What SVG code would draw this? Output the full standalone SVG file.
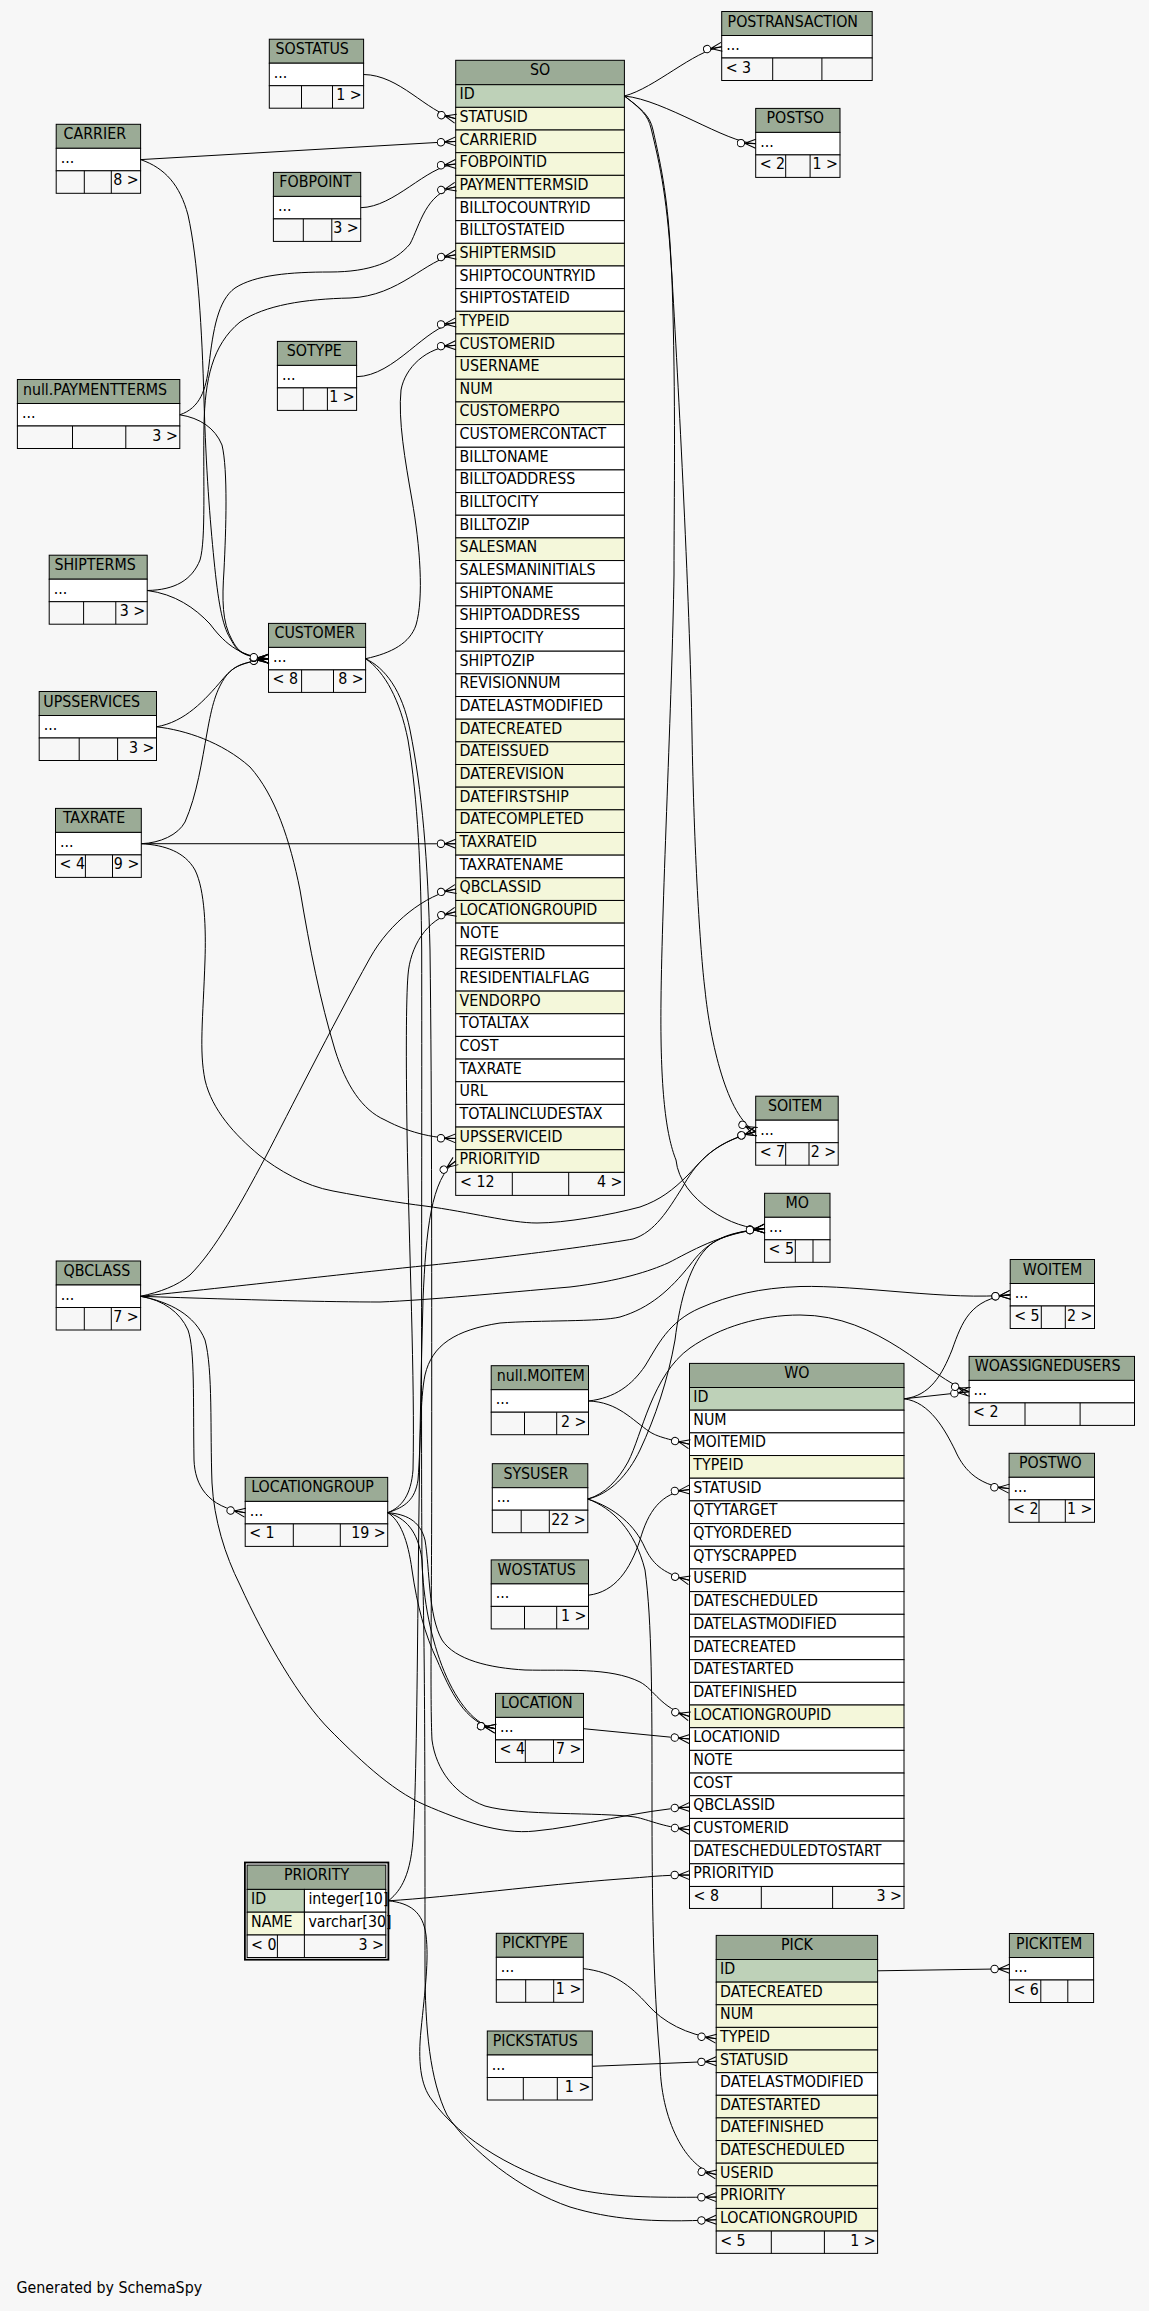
<svg xmlns="http://www.w3.org/2000/svg" width="1149" height="2311" viewBox="0 0 1149 2311">
<style>
.hd{fill:#9bab96;stroke:#000;stroke-width:1}
.pk{fill:#bed1b8;stroke:#000;stroke-width:1}
.ix{fill:#f4f7da;stroke:#000;stroke-width:1}
.wh{fill:#ffffff;stroke:#000;stroke-width:1}
.ft{fill:#f7f7f7;stroke:#000;stroke-width:1}
.ln{fill:none;stroke:#000;stroke-width:1}
text{font-family:"DejaVu Sans Condensed","DejaVu Sans",sans-serif;font-stretch:condensed;font-size:15.8px;fill:#000}
.c{text-anchor:middle}
.r{text-anchor:end}
.e{fill:none;stroke:#000;stroke-width:1;marker-end:url(#cf)}
</style>
<defs>
<marker id="cf" viewBox="-19 -6 20 12" refX="0" refY="0" markerWidth="20" markerHeight="12" markerUnits="userSpaceOnUse" orient="auto">
<path d="M-11,0L0,-4.5M-11,0L0,4.5M-11,0L0,0" fill="none" stroke="#000" stroke-width="1"/>
<circle cx="-14.8" cy="0" r="3.7" fill="#fff" stroke="#000" stroke-width="1"/>
</marker>
</defs>
<rect x="0" y="0" width="1149" height="2311" fill="#f7f7f7"/>

<g id="n-SOSTATUS"><rect class="hd" x="269.3" y="39.2" width="94.3" height="24"/><rect class="wh" x="269.3" y="63.2" width="94.3" height="22.5"/><rect class="ft" x="269.3" y="85.7" width="94.3" height="22.5"/><path class="ln" d="M301.5,85.7v22.5M332.5,85.7v22.5"/><text x="275.6" y="54.2">SOSTATUS</text><text x="273.8" y="77.7">...</text><text class="r" x="361.6" y="100.2">1 &gt;</text></g>
<g id="n-CARRIER"><rect class="hd" x="56.2" y="124.3" width="84.4" height="24"/><rect class="wh" x="56.2" y="148.3" width="84.4" height="22.5"/><rect class="ft" x="56.2" y="170.8" width="84.4" height="22.5"/><path class="ln" d="M84.3,170.8v22.5M111.3,170.8v22.5"/><text x="63.6" y="139.3">CARRIER</text><text x="60.7" y="162.8">...</text><text class="r" x="138.6" y="185.3">8 &gt;</text></g>
<g id="n-FOBPOINT"><rect class="hd" x="273.4" y="172.4" width="87.3" height="24"/><rect class="wh" x="273.4" y="196.4" width="87.3" height="22.5"/><rect class="ft" x="273.4" y="218.9" width="87.3" height="22.5"/><path class="ln" d="M303.3,218.9v22.5M331.8,218.9v22.5"/><text x="279.3" y="187.4">FOBPOINT</text><text x="277.9" y="210.9">...</text><text class="r" x="358.7" y="233.4">3 &gt;</text></g>
<g id="n-SOTYPE"><rect class="hd" x="277.4" y="341.4" width="79.2" height="24"/><rect class="wh" x="277.4" y="365.4" width="79.2" height="22.5"/><rect class="ft" x="277.4" y="387.9" width="79.2" height="22.5"/><path class="ln" d="M303.3,387.9v22.5M327.4,387.9v22.5"/><text x="286.7" y="356.4">SOTYPE</text><text x="281.9" y="379.9">...</text><text class="r" x="354.6" y="402.4">1 &gt;</text></g>
<g id="n-PAYMENTTERMS"><rect class="hd" x="17.4" y="379.5" width="162.4" height="24"/><rect class="wh" x="17.4" y="403.5" width="162.4" height="22.5"/><rect class="ft" x="17.4" y="426" width="162.4" height="22.5"/><path class="ln" d="M72.5,426v22.5M125.8,426v22.5"/><text x="22.9" y="394.5">null.PAYMENTTERMS</text><text x="21.9" y="418">...</text><text class="r" x="177.8" y="440.5">3 &gt;</text></g>
<g id="n-SHIPTERMS"><rect class="hd" x="49.2" y="555.2" width="98" height="24"/><rect class="wh" x="49.2" y="579.2" width="98" height="22.5"/><rect class="ft" x="49.2" y="601.7" width="98" height="22.5"/><path class="ln" d="M83.6,601.7v22.5M115.8,601.7v22.5"/><text x="54.4" y="570.2">SHIPTERMS</text><text x="53.7" y="593.7">...</text><text class="r" x="145.2" y="616.2">3 &gt;</text></g>
<g id="n-CUSTOMER"><rect class="hd" x="268.5" y="623.4" width="97.1" height="24"/><rect class="wh" x="268.5" y="647.4" width="97.1" height="22.5"/><rect class="ft" x="268.5" y="669.9" width="97.1" height="22.5"/><path class="ln" d="M301.6,669.9v22.5M333.5,669.9v22.5"/><text x="274.5" y="638.4">CUSTOMER</text><text x="273" y="661.9">...</text><text x="272.5" y="684.4">&lt; 8</text><text class="r" x="363.6" y="684.4">8 &gt;</text></g>
<g id="n-UPSSERVICES"><rect class="hd" x="39.2" y="691.5" width="117.3" height="24"/><rect class="wh" x="39.2" y="715.5" width="117.3" height="22.5"/><rect class="ft" x="39.2" y="738" width="117.3" height="22.5"/><path class="ln" d="M79.2,738v22.5M117.6,738v22.5"/><text x="43.3" y="706.5">UPSSERVICES</text><text x="43.7" y="730">...</text><text class="r" x="154.5" y="752.5">3 &gt;</text></g>
<g id="n-TAXRATE"><rect class="hd" x="55.5" y="808.4" width="85.8" height="24"/><rect class="wh" x="55.5" y="832.4" width="85.8" height="22.5"/><rect class="ft" x="55.5" y="854.9" width="85.8" height="22.5"/><path class="ln" d="M85.4,854.9v22.5M112.5,854.9v22.5"/><text x="62.9" y="823.4">TAXRATE</text><text x="60" y="846.9">...</text><text x="59.5" y="869.4">&lt; 4</text><text class="r" x="139.3" y="869.4">9 &gt;</text></g>
<g id="n-POSTRANSACTION"><rect class="hd" x="721.7" y="11.5" width="150.5" height="24"/><rect class="wh" x="721.7" y="35.5" width="150.5" height="22.5"/><rect class="ft" x="721.7" y="58" width="150.5" height="22.5"/><path class="ln" d="M772.7,58v22.5M821.9,58v22.5"/><text x="727.6" y="26.5">POSTRANSACTION</text><text x="726.2" y="50">...</text><text x="725.7" y="72.5">&lt; 3</text></g>
<g id="n-POSTSO"><rect class="hd" x="755.7" y="108.4" width="84.3" height="24"/><rect class="wh" x="755.7" y="132.4" width="84.3" height="22.5"/><rect class="ft" x="755.7" y="154.9" width="84.3" height="22.5"/><path class="ln" d="M785.7,154.9v22.5M810.1,154.9v22.5"/><text x="766.4" y="123.4">POSTSO</text><text x="760.2" y="146.9">...</text><text x="759.7" y="169.4">&lt; 2</text><text class="r" x="838" y="169.4">1 &gt;</text></g>
<g id="n-SOITEM"><rect class="hd" x="755.7" y="1096.2" width="82.5" height="24"/><rect class="wh" x="755.7" y="1120.2" width="82.5" height="22.5"/><rect class="ft" x="755.7" y="1142.7" width="82.5" height="22.5"/><path class="ln" d="M785.7,1142.7v22.5M809,1142.7v22.5"/><text x="767.9" y="1111.2">SOITEM</text><text x="760.2" y="1134.7">...</text><text x="759.7" y="1157.2">&lt; 7</text><text class="r" x="836.2" y="1157.2">2 &gt;</text></g>
<g id="n-MO"><rect class="hd" x="764.6" y="1193.3" width="65.4" height="24"/><rect class="wh" x="764.6" y="1217.3" width="65.4" height="22.5"/><rect class="ft" x="764.6" y="1239.8" width="65.4" height="22.5"/><path class="ln" d="M795.3,1239.8v22.5M813,1239.8v22.5"/><text class="c" x="797.3" y="1208.3">MO</text><text x="769.1" y="1231.8">...</text><text x="768.6" y="1254.3">&lt; 5</text></g>
<g id="n-WOITEM"><rect class="hd" x="1010.2" y="1259.5" width="84.3" height="24"/><rect class="wh" x="1010.2" y="1283.5" width="84.3" height="22.5"/><rect class="ft" x="1010.2" y="1306" width="84.3" height="22.5"/><path class="ln" d="M1041.3,1306v22.5M1065.3,1306v22.5"/><text x="1022.8" y="1274.5">WOITEM</text><text x="1014.7" y="1298">...</text><text x="1014.2" y="1320.5">&lt; 5</text><text class="r" x="1092.5" y="1320.5">2 &gt;</text></g>
<g id="n-WOASSIGNEDUSERS"><rect class="hd" x="969.1" y="1356.4" width="165.4" height="24"/><rect class="wh" x="969.1" y="1380.4" width="165.4" height="22.5"/><rect class="ft" x="969.1" y="1402.9" width="165.4" height="22.5"/><path class="ln" d="M1025,1402.9v22.5M1080.1,1402.9v22.5"/><text x="974.7" y="1371.4">WOASSIGNEDUSERS</text><text x="973.6" y="1394.9">...</text><text x="973.1" y="1417.4">&lt; 2</text></g>
<g id="n-POSTWO"><rect class="hd" x="1009.1" y="1453.3" width="85.4" height="24"/><rect class="wh" x="1009.1" y="1477.3" width="85.4" height="22.5"/><rect class="ft" x="1009.1" y="1499.8" width="85.4" height="22.5"/><path class="ln" d="M1039,1499.8v22.5M1065.3,1499.8v22.5"/><text x="1019" y="1468.3">POSTWO</text><text x="1013.6" y="1491.8">...</text><text x="1013.1" y="1514.3">&lt; 2</text><text class="r" x="1092.5" y="1514.3">1 &gt;</text></g>
<g id="n-QBCLASS"><rect class="hd" x="56.2" y="1261" width="84.4" height="24"/><rect class="wh" x="56.2" y="1285" width="84.4" height="22.5"/><rect class="ft" x="56.2" y="1307.5" width="84.4" height="22.5"/><path class="ln" d="M84.3,1307.5v22.5M111.3,1307.5v22.5"/><text x="63.6" y="1276">QBCLASS</text><text x="60.7" y="1299.5">...</text><text class="r" x="138.6" y="1322">7 &gt;</text></g>
<g id="n-LOCATIONGROUP"><rect class="hd" x="245.2" y="1477.4" width="142.5" height="24"/><rect class="wh" x="245.2" y="1501.4" width="142.5" height="22.5"/><rect class="ft" x="245.2" y="1523.9" width="142.5" height="22.5"/><path class="ln" d="M293.3,1523.9v22.5M340.3,1523.9v22.5"/><text x="251.2" y="1492.4">LOCATIONGROUP</text><text x="249.7" y="1515.9">...</text><text x="249.2" y="1538.4">&lt; 1</text><text class="r" x="385.7" y="1538.4">19 &gt;</text></g>
<g id="n-MOITEM"><rect class="hd" x="491.2" y="1365.7" width="97.3" height="24"/><rect class="wh" x="491.2" y="1389.7" width="97.3" height="22.5"/><rect class="ft" x="491.2" y="1412.2" width="97.3" height="22.5"/><path class="ln" d="M524.5,1412.2v22.5M556.7,1412.2v22.5"/><text x="496.8" y="1380.7">null.MOITEM</text><text x="495.7" y="1404.2">...</text><text class="r" x="586.5" y="1426.7">2 &gt;</text></g>
<g id="n-SYSUSER"><rect class="hd" x="492.3" y="1463.7" width="95.5" height="24"/><rect class="wh" x="492.3" y="1487.7" width="95.5" height="22.5"/><rect class="ft" x="492.3" y="1510.2" width="95.5" height="22.5"/><path class="ln" d="M521.2,1510.2v22.5M549.3,1510.2v22.5"/><text x="503.4" y="1478.7">SYSUSER</text><text x="496.8" y="1502.2">...</text><text class="r" x="585.8" y="1524.7">22 &gt;</text></g>
<g id="n-WOSTATUS"><rect class="hd" x="491.2" y="1559.9" width="97.3" height="24"/><rect class="wh" x="491.2" y="1583.9" width="97.3" height="22.5"/><rect class="ft" x="491.2" y="1606.4" width="97.3" height="22.5"/><path class="ln" d="M524.5,1606.4v22.5M556.7,1606.4v22.5"/><text x="497.5" y="1574.9">WOSTATUS</text><text x="495.7" y="1598.4">...</text><text class="r" x="586.5" y="1620.9">1 &gt;</text></g>
<g id="n-LOCATION"><rect class="hd" x="495.5" y="1693.4" width="88" height="24"/><rect class="wh" x="495.5" y="1717.4" width="88" height="22.5"/><rect class="ft" x="495.5" y="1739.9" width="88" height="22.5"/><path class="ln" d="M525.3,1739.9v22.5M553.5,1739.9v22.5"/><text x="501" y="1708.4">LOCATION</text><text x="500" y="1731.9">...</text><text x="499.5" y="1754.4">&lt; 4</text><text class="r" x="581.5" y="1754.4">7 &gt;</text></g>
<g id="n-PICKTYPE"><rect class="hd" x="496.3" y="1933.3" width="87" height="24"/><rect class="wh" x="496.3" y="1957.3" width="87" height="22.5"/><rect class="ft" x="496.3" y="1979.8" width="87" height="22.5"/><path class="ln" d="M525.7,1979.8v22.5M553.7,1979.8v22.5"/><text x="502.3" y="1948.3">PICKTYPE</text><text x="500.8" y="1971.8">...</text><text class="r" x="581.3" y="1994.3">1 &gt;</text></g>
<g id="n-PICKSTATUS"><rect class="hd" x="487.3" y="2031" width="105" height="24"/><rect class="wh" x="487.3" y="2055" width="105" height="22.5"/><rect class="ft" x="487.3" y="2077.5" width="105" height="22.5"/><path class="ln" d="M523.3,2077.5v22.5M557.3,2077.5v22.5"/><text x="492.7" y="2046">PICKSTATUS</text><text x="491.8" y="2069.5">...</text><text class="r" x="590.3" y="2092">1 &gt;</text></g>
<g id="n-PICKITEM"><rect class="hd" x="1009.4" y="1933.5" width="84.2" height="24"/><rect class="wh" x="1009.4" y="1957.5" width="84.2" height="22.5"/><rect class="ft" x="1009.4" y="1980" width="84.2" height="22.5"/><path class="ln" d="M1040.8,1980v22.5M1067.8,1980v22.5"/><text x="1016.1" y="1948.5">PICKITEM</text><text x="1013.9" y="1972">...</text><text x="1013.4" y="1994.5">&lt; 6</text></g>

<g id="n-PRIORITY">
<rect x="244.9" y="1862.5" width="143.5" height="97.2" fill="#f7f7f7" stroke="#000" stroke-width="1.8"/>
<rect class="hd" x="247.1" y="1865.1" width="138.7" height="24.3"/>
<rect class="pk" x="247.1" y="1889.4" width="57.3" height="22.8"/>
<rect class="wh" x="304.4" y="1889.4" width="81.4" height="22.8"/>
<rect class="ix" x="247.1" y="1912.2" width="57.3" height="22.8"/>
<rect class="wh" x="304.4" y="1912.2" width="81.4" height="22.8"/>
<rect class="ft" x="247.1" y="1935" width="138.7" height="22.5"/>
<path class="ln" d="M277.4,1935v22.5M304.4,1935v22.5"/>
<text class="c" x="316.5" y="1880.3">PRIORITY</text>
<text x="251" y="1903.9">ID</text><text x="308.4" y="1903.9">integer[10]</text>
<text x="251" y="1926.7">NAME</text><text x="308.4" y="1926.7">varchar[30]</text>
<text x="251" y="1949.5">&lt; 0</text><text class="r" x="384" y="1949.5">3 &gt;</text>
</g>

<g id="n-SO">
<rect class="hd" x="455.7" y="60.3" width="168.7" height="24.4"/>
<text class="c" x="540.05" y="75.3">SO</text>
<rect class="pk" x="455.7" y="84.70" width="168.7" height="22.66"/><text x="459.5" y="99.2">ID</text>
<rect class="ix" x="455.7" y="107.36" width="168.7" height="22.66"/><text x="459.5" y="121.9">STATUSID</text>
<rect class="ix" x="455.7" y="130.02" width="168.7" height="22.66"/><text x="459.5" y="144.5">CARRIERID</text>
<rect class="ix" x="455.7" y="152.68" width="168.7" height="22.66"/><text x="459.5" y="167.2">FOBPOINTID</text>
<rect class="ix" x="455.7" y="175.34" width="168.7" height="22.66"/><text x="459.5" y="189.8">PAYMENTTERMSID</text>
<rect class="wh" x="455.7" y="198.00" width="168.7" height="22.66"/><text x="459.5" y="212.5">BILLTOCOUNTRYID</text>
<rect class="wh" x="455.7" y="220.66" width="168.7" height="22.66"/><text x="459.5" y="235.2">BILLTOSTATEID</text>
<rect class="ix" x="455.7" y="243.32" width="168.7" height="22.66"/><text x="459.5" y="257.8">SHIPTERMSID</text>
<rect class="wh" x="455.7" y="265.98" width="168.7" height="22.66"/><text x="459.5" y="280.5">SHIPTOCOUNTRYID</text>
<rect class="wh" x="455.7" y="288.64" width="168.7" height="22.66"/><text x="459.5" y="303.1">SHIPTOSTATEID</text>
<rect class="ix" x="455.7" y="311.30" width="168.7" height="22.66"/><text x="459.5" y="325.8">TYPEID</text>
<rect class="ix" x="455.7" y="333.96" width="168.7" height="22.66"/><text x="459.5" y="348.5">CUSTOMERID</text>
<rect class="ix" x="455.7" y="356.62" width="168.7" height="22.66"/><text x="459.5" y="371.1">USERNAME</text>
<rect class="ix" x="455.7" y="379.28" width="168.7" height="22.66"/><text x="459.5" y="393.8">NUM</text>
<rect class="ix" x="455.7" y="401.94" width="168.7" height="22.66"/><text x="459.5" y="416.4">CUSTOMERPO</text>
<rect class="wh" x="455.7" y="424.60" width="168.7" height="22.66"/><text x="459.5" y="439.1">CUSTOMERCONTACT</text>
<rect class="wh" x="455.7" y="447.26" width="168.7" height="22.66"/><text x="459.5" y="461.8">BILLTONAME</text>
<rect class="wh" x="455.7" y="469.92" width="168.7" height="22.66"/><text x="459.5" y="484.4">BILLTOADDRESS</text>
<rect class="wh" x="455.7" y="492.58" width="168.7" height="22.66"/><text x="459.5" y="507.1">BILLTOCITY</text>
<rect class="wh" x="455.7" y="515.24" width="168.7" height="22.66"/><text x="459.5" y="529.7">BILLTOZIP</text>
<rect class="ix" x="455.7" y="537.90" width="168.7" height="22.66"/><text x="459.5" y="552.4">SALESMAN</text>
<rect class="wh" x="455.7" y="560.56" width="168.7" height="22.66"/><text x="459.5" y="575.1">SALESMANINITIALS</text>
<rect class="wh" x="455.7" y="583.22" width="168.7" height="22.66"/><text x="459.5" y="597.7">SHIPTONAME</text>
<rect class="wh" x="455.7" y="605.88" width="168.7" height="22.66"/><text x="459.5" y="620.4">SHIPTOADDRESS</text>
<rect class="wh" x="455.7" y="628.54" width="168.7" height="22.66"/><text x="459.5" y="643.0">SHIPTOCITY</text>
<rect class="wh" x="455.7" y="651.20" width="168.7" height="22.66"/><text x="459.5" y="665.7">SHIPTOZIP</text>
<rect class="wh" x="455.7" y="673.86" width="168.7" height="22.66"/><text x="459.5" y="688.4">REVISIONNUM</text>
<rect class="wh" x="455.7" y="696.52" width="168.7" height="22.66"/><text x="459.5" y="711.0">DATELASTMODIFIED</text>
<rect class="ix" x="455.7" y="719.18" width="168.7" height="22.66"/><text x="459.5" y="733.7">DATECREATED</text>
<rect class="ix" x="455.7" y="741.84" width="168.7" height="22.66"/><text x="459.5" y="756.3">DATEISSUED</text>
<rect class="ix" x="455.7" y="764.50" width="168.7" height="22.66"/><text x="459.5" y="779.0">DATEREVISION</text>
<rect class="ix" x="455.7" y="787.16" width="168.7" height="22.66"/><text x="459.5" y="801.7">DATEFIRSTSHIP</text>
<rect class="ix" x="455.7" y="809.82" width="168.7" height="22.66"/><text x="459.5" y="824.3">DATECOMPLETED</text>
<rect class="ix" x="455.7" y="832.48" width="168.7" height="22.66"/><text x="459.5" y="847.0">TAXRATEID</text>
<rect class="wh" x="455.7" y="855.14" width="168.7" height="22.66"/><text x="459.5" y="869.6">TAXRATENAME</text>
<rect class="ix" x="455.7" y="877.80" width="168.7" height="22.66"/><text x="459.5" y="892.3">QBCLASSID</text>
<rect class="ix" x="455.7" y="900.46" width="168.7" height="22.66"/><text x="459.5" y="915.0">LOCATIONGROUPID</text>
<rect class="wh" x="455.7" y="923.12" width="168.7" height="22.66"/><text x="459.5" y="937.6">NOTE</text>
<rect class="wh" x="455.7" y="945.78" width="168.7" height="22.66"/><text x="459.5" y="960.3">REGISTERID</text>
<rect class="wh" x="455.7" y="968.44" width="168.7" height="22.66"/><text x="459.5" y="982.9">RESIDENTIALFLAG</text>
<rect class="ix" x="455.7" y="991.10" width="168.7" height="22.66"/><text x="459.5" y="1005.6">VENDORPO</text>
<rect class="wh" x="455.7" y="1013.76" width="168.7" height="22.66"/><text x="459.5" y="1028.3">TOTALTAX</text>
<rect class="wh" x="455.7" y="1036.42" width="168.7" height="22.66"/><text x="459.5" y="1050.9">COST</text>
<rect class="wh" x="455.7" y="1059.08" width="168.7" height="22.66"/><text x="459.5" y="1073.6">TAXRATE</text>
<rect class="wh" x="455.7" y="1081.74" width="168.7" height="22.66"/><text x="459.5" y="1096.2">URL</text>
<rect class="wh" x="455.7" y="1104.40" width="168.7" height="22.66"/><text x="459.5" y="1118.9">TOTALINCLUDESTAX</text>
<rect class="ix" x="455.7" y="1127.06" width="168.7" height="22.66"/><text x="459.5" y="1141.6">UPSSERVICEID</text>
<rect class="ix" x="455.7" y="1149.72" width="168.7" height="22.66"/><text x="459.5" y="1164.2">PRIORITYID</text>
<rect class="ft" x="455.7" y="1172.38" width="168.7" height="23"/>
<path class="ln" d="M512.3,1172.38v23M568.7,1172.38v23"/>
<text x="460" y="1186.9">&lt; 12</text><text class="r" x="622.4" y="1186.9">4 &gt;</text>
</g>

<g id="n-WO">
<rect class="hd" x="689.5" y="1363.4" width="214.5" height="24.1"/>
<text class="c" x="796.75" y="1378.4">WO</text>
<rect class="pk" x="689.5" y="1387.50" width="214.5" height="22.68"/><text x="693.3" y="1402.0">ID</text>
<rect class="wh" x="689.5" y="1410.18" width="214.5" height="22.68"/><text x="693.3" y="1424.7">NUM</text>
<rect class="wh" x="689.5" y="1432.86" width="214.5" height="22.68"/><text x="693.3" y="1447.4">MOITEMID</text>
<rect class="ix" x="689.5" y="1455.54" width="214.5" height="22.68"/><text x="693.3" y="1470.0">TYPEID</text>
<rect class="wh" x="689.5" y="1478.22" width="214.5" height="22.68"/><text x="693.3" y="1492.7">STATUSID</text>
<rect class="wh" x="689.5" y="1500.90" width="214.5" height="22.68"/><text x="693.3" y="1515.4">QTYTARGET</text>
<rect class="wh" x="689.5" y="1523.58" width="214.5" height="22.68"/><text x="693.3" y="1538.1">QTYORDERED</text>
<rect class="wh" x="689.5" y="1546.26" width="214.5" height="22.68"/><text x="693.3" y="1560.8">QTYSCRAPPED</text>
<rect class="wh" x="689.5" y="1568.94" width="214.5" height="22.68"/><text x="693.3" y="1583.4">USERID</text>
<rect class="wh" x="689.5" y="1591.62" width="214.5" height="22.68"/><text x="693.3" y="1606.1">DATESCHEDULED</text>
<rect class="wh" x="689.5" y="1614.30" width="214.5" height="22.68"/><text x="693.3" y="1628.8">DATELASTMODIFIED</text>
<rect class="wh" x="689.5" y="1636.98" width="214.5" height="22.68"/><text x="693.3" y="1651.5">DATECREATED</text>
<rect class="wh" x="689.5" y="1659.66" width="214.5" height="22.68"/><text x="693.3" y="1674.2">DATESTARTED</text>
<rect class="wh" x="689.5" y="1682.34" width="214.5" height="22.68"/><text x="693.3" y="1696.8">DATEFINISHED</text>
<rect class="ix" x="689.5" y="1705.02" width="214.5" height="22.68"/><text x="693.3" y="1719.5">LOCATIONGROUPID</text>
<rect class="wh" x="689.5" y="1727.70" width="214.5" height="22.68"/><text x="693.3" y="1742.2">LOCATIONID</text>
<rect class="wh" x="689.5" y="1750.38" width="214.5" height="22.68"/><text x="693.3" y="1764.9">NOTE</text>
<rect class="wh" x="689.5" y="1773.06" width="214.5" height="22.68"/><text x="693.3" y="1787.6">COST</text>
<rect class="wh" x="689.5" y="1795.74" width="214.5" height="22.68"/><text x="693.3" y="1810.2">QBCLASSID</text>
<rect class="wh" x="689.5" y="1818.42" width="214.5" height="22.68"/><text x="693.3" y="1832.9">CUSTOMERID</text>
<rect class="wh" x="689.5" y="1841.10" width="214.5" height="22.68"/><text x="693.3" y="1855.6">DATESCHEDULEDTOSTART</text>
<rect class="wh" x="689.5" y="1863.78" width="214.5" height="22.68"/><text x="693.3" y="1878.3">PRIORITYID</text>
<rect class="ft" x="689.5" y="1886.46" width="214.5" height="22"/>
<path class="ln" d="M761.3,1886.46v22M832.6,1886.46v22"/>
<text x="693.5" y="1901">&lt; 8</text><text class="r" x="902" y="1901">3 &gt;</text>
</g>

<g id="n-PICK">
<rect class="hd" x="716.2" y="1935.4" width="161.4" height="24.1"/>
<text class="c" x="796.9" y="1950.4">PICK</text>
<rect class="pk" x="716.2" y="1959.50" width="161.4" height="22.63"/><text x="720" y="1974.0">ID</text>
<rect class="ix" x="716.2" y="1982.13" width="161.4" height="22.63"/><text x="720" y="1996.6">DATECREATED</text>
<rect class="ix" x="716.2" y="2004.76" width="161.4" height="22.63"/><text x="720" y="2019.3">NUM</text>
<rect class="ix" x="716.2" y="2027.39" width="161.4" height="22.63"/><text x="720" y="2041.9">TYPEID</text>
<rect class="ix" x="716.2" y="2050.02" width="161.4" height="22.63"/><text x="720" y="2064.5">STATUSID</text>
<rect class="wh" x="716.2" y="2072.65" width="161.4" height="22.63"/><text x="720" y="2087.1">DATELASTMODIFIED</text>
<rect class="ix" x="716.2" y="2095.28" width="161.4" height="22.63"/><text x="720" y="2109.8">DATESTARTED</text>
<rect class="ix" x="716.2" y="2117.91" width="161.4" height="22.63"/><text x="720" y="2132.4">DATEFINISHED</text>
<rect class="ix" x="716.2" y="2140.54" width="161.4" height="22.63"/><text x="720" y="2155.0">DATESCHEDULED</text>
<rect class="ix" x="716.2" y="2163.17" width="161.4" height="22.63"/><text x="720" y="2177.7">USERID</text>
<rect class="ix" x="716.2" y="2185.80" width="161.4" height="22.63"/><text x="720" y="2200.3">PRIORITY</text>
<rect class="ix" x="716.2" y="2208.43" width="161.4" height="22.63"/><text x="720" y="2222.9">LOCATIONGROUPID</text>
<rect class="ft" x="716.2" y="2231.06" width="161.4" height="22.3"/>
<path class="ln" d="M771.3,2231.06v22.3M824.4,2231.06v22.3"/>
<text x="720.2" y="2245.6">&lt; 5</text><text class="r" x="875.6" y="2245.6">1 &gt;</text>
</g>

<g id="connectors">
<path class="e" d="M363.6,74.5C400,75 425.5,111.3 455.7,118.7"/>
<path class="e" d="M140.6,159.6L455.7,141.4"/>
<path class="e" d="M360.7,207.7C395,207 425.5,166.6 455.7,164"/>
<path class="e" d="M179.8,414.8C200,408 206,390 209,365C213,330 218,300 235,288C255,275 290,272 330,272C370,272 395,262 410,244C420,225 425.5,193.5 455.7,186.7"/>
<path class="e" d="M147.2,590.5C175,590 192,580 200,560C206,540 203,480 204,425C205,380 212,345 240,322C265,305 305,299 350,298C400,296 425.5,259.5 455.7,254.7"/>
<path class="e" d="M356.6,376.7C395,376 425.5,326.2 455.7,322.6"/>
<path class="e" d="M365.6,658.7C392,653 410,643 416,625C424,598 420,545 412,500C405,460 398,420 401,390C405,368 425.5,347.1 455.7,345.3"/>
<path class="e" d="M141.3,843.7L455.7,843.8"/>
<path class="e" d="M140.6,1296.3C160,1292 177,1286 190,1275C215,1250 240,1205 265,1158C290,1110 330,1030 370,958C390,922 425.5,894.9 455.7,889.1"/>
<path class="e" d="M387.7,1512.7C402,1507 411,1495 413,1470C415,1380 409,1250 407,1130C406,1060 406,1000 408,975C410,948 425.5,918.8 455.7,911.8"/>
<path class="e" d="M156.5,726.8C185,730 222,742 250,767C275,795 290,840 300,890C310,950 320,1000 335,1050C346,1085 362,1110 385,1120C400,1128 425,1138.2 455.7,1138.4"/>
<path class="e" d="M388.4,1900.8C398,1893 410,1880 413,1840C416,1790 417,1700 418,1600C419,1500 420,1400 423,1300C426,1230 431,1179 455.7,1161"/>
<path class="e" d="M624.4,96C655,88 693.1,51.2 721.7,46.8"/>
<path class="e" d="M624.4,96C665,100 725.5,142.5 755.7,143.7"/>
<path class="e" d="M624.4,96C640,108 650,115 653,130C662,170 668,200 671,260C677,360 690,600 692,734C694,850 700,950 705,990C710,1040 726.9,1117 755.7,1131.5"/>
<path class="e" d="M624.4,96C640,108 648,115 651,128C660,165 668,200 672,280C676,400 674,500 674,575C672,700 662,900 661,1000C660,1090 666,1135 676,1160C680,1200 734.2,1230.4 764.6,1228.6"/>
<path class="e" d="M904,1398.8C930,1396 942,1375 952,1350C962,1322 970.2,1298.6 1010.2,1294.8"/>
<path class="e" d="M904,1398.8L969.1,1391.7"/>
<path class="e" d="M904,1398.8C930,1402 945,1430 955,1450C962,1466 975,1485.4 1009.1,1488.6"/>
<path class="e" d="M877.6,1970.8L1009.4,1968.8"/>
<path class="e" d="M588.5,1401C618,1402 632,1420 650,1432C655,1435 660.5,1437.8 689.5,1444.2"/>
<path class="e" d="M588.5,1401C615,1398 632,1385 645,1366C658,1345 668,1322 700,1308C730,1295 760,1288 800,1286.5C860,1285 950,1300.7 1010.2,1294.8"/>
<path class="e" d="M587.8,1499C610,1494 628,1475 640,1450C655,1418 668,1380 675,1340C680,1300 690,1262 710,1245C720,1237 734,1231.5 764.6,1228.6"/>
<path class="e" d="M587.8,1499C605,1494 618,1480 628,1462C642,1435 652,1375 690,1348C720,1327 760,1315 800,1315C880,1315 929.1,1377.6 969.1,1391.7"/>
<path class="e" d="M587.8,1499C615,1508 635,1525 645,1548C652,1562 660.5,1573.1 689.5,1580.3"/>
<path class="e" d="M587.8,1499C612,1508 635,1530 645,1570C652,1620 652,1700 652,1800C652,1900 653,1980 660,2060C660,2120 686.4,2168.9 716.2,2174.5"/>
<path class="e" d="M588.5,1595.2C615,1592 630,1570 640,1540C648,1512 660.5,1492.4 689.5,1489.6"/>
<path class="e" d="M583.5,1728.7L689.5,1739"/>
<path class="e" d="M388.4,1900.8C450,1897 540,1885 620,1879C650,1877 660,1875 689.5,1875.1"/>
<path class="e" d="M388.4,1900.8C410,1903 423,1912 426,1935C429,1960 425,1990 421,2030C418,2060 420,2085 432,2100C460,2140 520,2175 580,2190C620,2198 660,2197.5 716.2,2197.1"/>
<path class="e" d="M387.7,1512.7C405,1518 418,1530 422,1560C425,1620 425,1800 425,1966C425,2030 430,2080 447,2115C470,2150 520,2190 570,2207C610,2219 650,2223 716.2,2219.7"/>
<path class="e" d="M387.7,1512.7C405,1514 420,1520 425,1540C430,1570 428,1615 442,1640C455,1660 490,1668 525,1670C565,1671 610,1667 640,1682C655,1690 660,1707.6 689.5,1716.4"/>
<path class="e" d="M387.7,1512.7C400,1520 408,1540 412,1570C417,1605 425,1635 437,1660C450,1690 464.5,1723.3 495.5,1728.7"/>
<path class="e" d="M387.7,1512.7C405,1507 415,1500 418,1480C421,1440 420,1400 425,1375C432,1345 455,1330 500,1323C540,1320 600,1322 620,1317C650,1308 670,1290 690,1265C705,1245 720,1233 764.6,1228.6"/>
<path class="e" d="M365.6,658.7C385,672 400,700 408,740C418,800 421,870 421.7,950C422,1200 421,1450 422,1560C424,1640 455,1721.6 495.5,1728.7"/>
<path class="e" d="M365.6,658.7C385,668 402,690 410,730C422,790 428,860 430,950C432,1100 431.7,1300 431.7,1480C431.7,1600 430,1700 432,1740C436,1770 455,1795 485,1806C520,1816 600,1812 635,1817C650,1820 660,1826.2 689.5,1829.8"/>
<path class="e" d="M140.6,1296.3C250,1285 380,1270 432,1265C500,1258 600,1245 633,1239C655,1232 668,1210 682,1188C695,1165 710,1144 755.7,1131.5"/>
<path class="e" d="M140.6,1296.3C250,1300 330,1302 380,1302C430,1300 500,1293 570,1287C620,1281 650,1271 668,1263C690,1252 720,1233 764.6,1228.6"/>
<path class="e" d="M141.3,843.7C165,845 185,852 195,870C205,890 206,930 205,960C203,1020 199,1050 205,1080C212,1110 235,1135 259,1155C278,1170 305,1186 333,1191C370,1198 400,1203 425,1206C470,1212 510,1223 537,1223C565,1223 610,1215 640,1207C660,1200 673,1190 688,1175C705,1157 715,1142.5 755.7,1131.5"/>
<path class="e" d="M140.6,1296.3C163,1300 180,1312 188,1330C195,1350 193,1400 194,1460C195,1485 207,1507 245.2,1512.7"/>
<path class="e" d="M140.6,1296.3C170,1302 195,1315 205,1340C213,1370 210,1430 212,1483C214,1520 225,1555 240,1585C265,1640 300,1700 330,1730C355,1755 390,1790 425,1805C460,1820 500,1835 535,1831C580,1827 640,1810 689.5,1807.1"/>
<path class="e" d="M156.5,726.8C185,722 205,700 222,680C232,668 238,663 268.5,658.7"/>
<path class="e" d="M141.3,843.7C160,843 178,835 185,822C197,795 202,760 207,733C212,705 216,690 226,676C234,667 238,663 268.5,658.7"/>
<path class="e" d="M147.2,590.5C175,594 195,608 210,624C222,640 238,657 268.5,658.7"/>
<path class="e" d="M140.6,159.6C165,168 180,185 188,215C198,260 202,330 204,400C206,470 210,520 214,560C218,600 222,625 230,638C236,648 238,657 268.5,658.7"/>
<path class="e" d="M179.8,414.8C200,418 215,428 222,445C228,470 226,530 224,570C222,600 222,622 232,640C238,650 240,656 268.5,658.7"/>
<path class="e" d="M583.3,1968.6C613,1972 630,1985 648,2005C663,2022 686.4,2034.7 716.2,2038.7"/>
<path class="e" d="M592.3,2066.3L716.2,2061.3"/>
</g>

<text x="16.6" y="2293" font-size="16">Generated by SchemaSpy</text>
</svg>
